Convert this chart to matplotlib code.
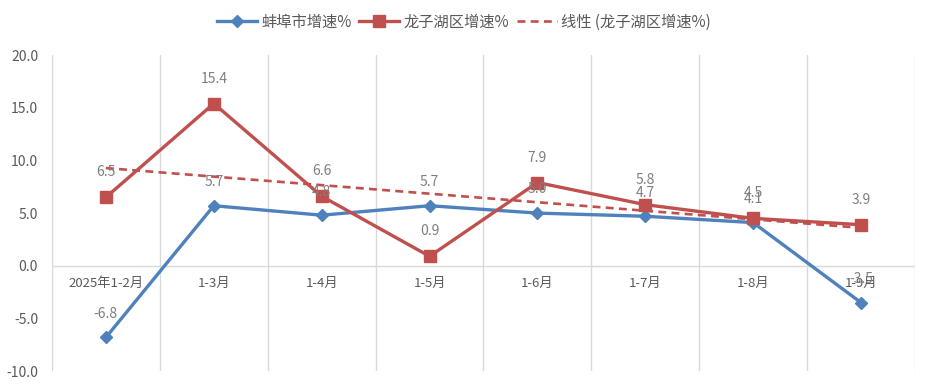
import numpy as np
import matplotlib.pyplot as plt

plt.rcParams['font.family'] = ['Noto Sans CJK SC', 'DejaVu Sans']

months = ["2025年1-2月", "1-3月", "1-4月", "1-5月", "1-6月", "1-7月", "1-8月", "1-9月"]
bengbu = [-6.8, 5.7, 4.8, 5.7, 5.0, 4.7, 4.1, -3.5]
longzihu = [6.5, 15.4, 6.6, 0.9, 7.9, 5.8, 4.5, 3.9]

blue = "#4f81bd"
red = "#c0504d"
gray = "#595959"
label_gray = "#7f7f7f"

fig = plt.figure(figsize=(9.28, 3.85), dpi=100)
ax = fig.add_axes([0.056, 0.036, 0.93, 0.821])

x = np.arange(len(months))

# linear trend of 龙子湖区
k, b = np.polyfit(x, longzihu, 1)
trend = k * x + b

ax.plot(x, bengbu, color=blue, lw=2.4, marker="D", ms=6.5, label="蚌埠市增速%", zorder=3)
ax.plot(x, longzihu, color=red, lw=2.4, marker="s", ms=8, label="龙子湖区增速%", zorder=3)
ax.plot(x, trend, color=red, lw=1.9, ls=(0, (3, 2)), label="线性 (龙子湖区增速%)", zorder=2)

for xi, v in zip(x, bengbu):
    ax.annotate(f"{v:.1f}", (xi, v), xytext=(0, 17), textcoords="offset points",
                ha="center", va="center", fontsize=10, color=label_gray, zorder=4)
for xi, v in zip(x, longzihu):
    ax.annotate(f"{v:.1f}", (xi, v), xytext=(0, 18), textcoords="offset points",
                ha="center", va="center", fontsize=10, color=label_gray, zorder=4)

ax.set_xlim(-0.5, 7.5)
ax.set_ylim(-10, 20)
ax.set_yticks(np.arange(-10, 21, 5))
ax.set_yticklabels([f"{t:.1f}" for t in np.arange(-10, 21, 5)], fontsize=10, color=gray)
ax.tick_params(axis="y", length=0, pad=10)
ax.set_xticks([])

for xb in np.arange(-0.5, 8.0, 1.0):
    ax.axvline(xb, color="#d9d9d9", lw=1, zorder=0)
ax.axhline(0, color="#d9d9d9", lw=1, zorder=1)

for s in ax.spines.values():
    s.set_visible(False)

# category labels just below zero line
for xi, m in zip(x, months):
    ax.annotate(m, (xi, 0), xytext=(0, -13), textcoords="offset points",
                ha="center", va="center", fontsize=9.5, color=gray, zorder=1)

fig.legend(loc="upper center", bbox_to_anchor=(0.5, 1.0), ncol=3, frameon=False,
           fontsize=11, handlelength=2.6, columnspacing=0.5, handletextpad=0.3,
           labelcolor=gray)

fig.savefig("out.png", dpi=100)
